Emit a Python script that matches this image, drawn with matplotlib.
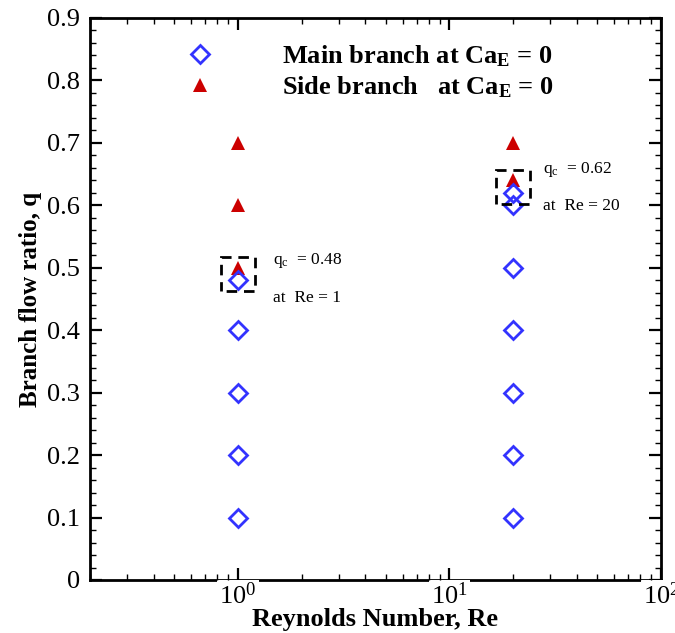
import matplotlib
matplotlib.use("Agg")
import matplotlib.pyplot as plt
from matplotlib.patches import Rectangle
from matplotlib.transforms import ScaledTranslation
from matplotlib.ticker import LogLocator, NullFormatter, MultipleLocator, FixedLocator
import numpy as np

plt.rcParams['font.family'] = ['Liberation Serif', 'DejaVu Serif']
plt.rcParams['mathtext.fontset'] = 'custom'
plt.rcParams['mathtext.rm'] = 'Liberation Serif'
plt.rcParams['mathtext.it'] = 'Liberation Serif:italic'
plt.rcParams['mathtext.bf'] = 'Liberation Serif:bold'
plt.rcParams['lines.scale_dashes'] = False

# Flow-ratio data: main branch (open diamonds) and side branch (filled triangles)
main_re = [1, 1, 1, 1, 1, 20, 20, 20, 20, 20, 20, 20]
main_q = [0.1, 0.2, 0.3, 0.4, 0.48, 0.1, 0.2, 0.3, 0.4, 0.5, 0.6, 0.62]
side_re = [1, 1, 1, 20, 20]
side_q = [0.5, 0.6, 0.7, 0.64, 0.7]

# Critical flow ratios
crit_re = [1, 20]
crit_qc = [0.48, 0.62]
crit_box_q = [0.49, 0.63]

x_ticks = [1, 10, 100]
x_tick_labels = [r'$10^{0}$', r'$10^{1}$', r'$10^{2}$']
y_ticks = [0, 0.1, 0.2, 0.3, 0.4, 0.5, 0.6, 0.7, 0.8, 0.9]
y_tick_labels = ['0', '0.1', '0.2', '0.3', '0.4', '0.5', '0.6', '0.7', '0.8', '0.9']

blue = '#3333ff'
red = '#cc0000'

fig = plt.figure(figsize=(6.75, 6.33), dpi=100)
ax = fig.add_axes([90 / 675, 53 / 633, 571 / 675, 562 / 633])

ax.set_xscale('log')
ax.set_xlim(0.2, 100)
ax.set_ylim(0, 0.9)

mh, = ax.plot(main_re, main_q, linestyle='none', marker='D', markersize=9.3,
              markerfacecolor='none', markeredgecolor=blue, markeredgewidth=2.0,
              zorder=4)
sh, = ax.plot(side_re, side_q, linestyle='none', marker='^', markersize=10,
              color=red, markeredgewidth=0, zorder=3)

# Dashed boxes around the critical points, sized in inches
bw = 34 / 100
text_offsets = [((25, 9.5), (25, -17)), ((21.5, 12), (21.5, -14))]
for re, qb, qc, (o1, o2) in zip(crit_re, crit_box_q, crit_qc, text_offsets):
    tr = fig.dpi_scale_trans + ScaledTranslation(re, qb, ax.transData)
    rect = Rectangle((-bw / 2, -bw / 2), bw, bw, transform=tr, fill=False,
                     edgecolor='black', linewidth=2.0,
                     linestyle=(8.8, (7.6, 4.9)), zorder=5)
    ax.add_patch(rect)
    ax.annotate(r'q$_{\rm c}$  = %.2f' % qc, xy=(re, qb), xytext=o1,
                textcoords='offset points', fontsize=12.5, va='center', ha='left')
    ax.annotate('at  Re = %g' % re, xy=(re, qb), xytext=o2,
                textcoords='offset points', fontsize=12.5, va='center', ha='left')

# Axes styling
for s in ax.spines.values():
    s.set_linewidth(2.0)
ax.xaxis.set_major_locator(FixedLocator(x_ticks))
ax.set_xticklabels(x_tick_labels)
ax.xaxis.set_minor_locator(LogLocator(base=10, subs=np.arange(2, 10)))
ax.xaxis.set_minor_formatter(NullFormatter())
ax.set_yticks(y_ticks)
ax.set_yticklabels(y_tick_labels)
ax.yaxis.set_minor_locator(MultipleLocator(0.02))
ax.tick_params(which='both', direction='in', top=True, right=True)
ax.tick_params(which='major', length=8.5, width=1.6, labelsize=19)
ax.tick_params(which='minor', length=4, width=1.0)
ax.tick_params(axis='x', which='major', pad=1.5)
ax.tick_params(axis='y', which='major', pad=7)
ax.xaxis.set_zorder(3)
for lbl in ax.get_xticklabels():
    lbl.set_bbox(dict(facecolor='white', edgecolor='none', pad=1.5))

ax.set_xlabel('Reynolds Number, Re', fontsize=19, fontweight='bold', labelpad=-0.5)
ax.set_ylabel('Branch flow ratio, q', fontsize=18, fontweight='bold', labelpad=4)

leg = ax.legend([mh, sh],
                [r'Main branch at Ca$_{\mathbf{E}}$ = 0',
                 r'Side branch   at Ca$_{\mathbf{E}}$ = 0'],
                loc='upper left', bbox_to_anchor=(187 / 675, 1 - 43 / 633),
                bbox_transform=fig.transFigure, frameon=False, borderpad=0,
                borderaxespad=0, handlelength=1.0, handletextpad=2.6,
                labelspacing=0.21,
                prop={'family': 'Liberation Serif', 'weight': 'bold', 'size': 19})

fig.savefig('out.png', dpi=100)
